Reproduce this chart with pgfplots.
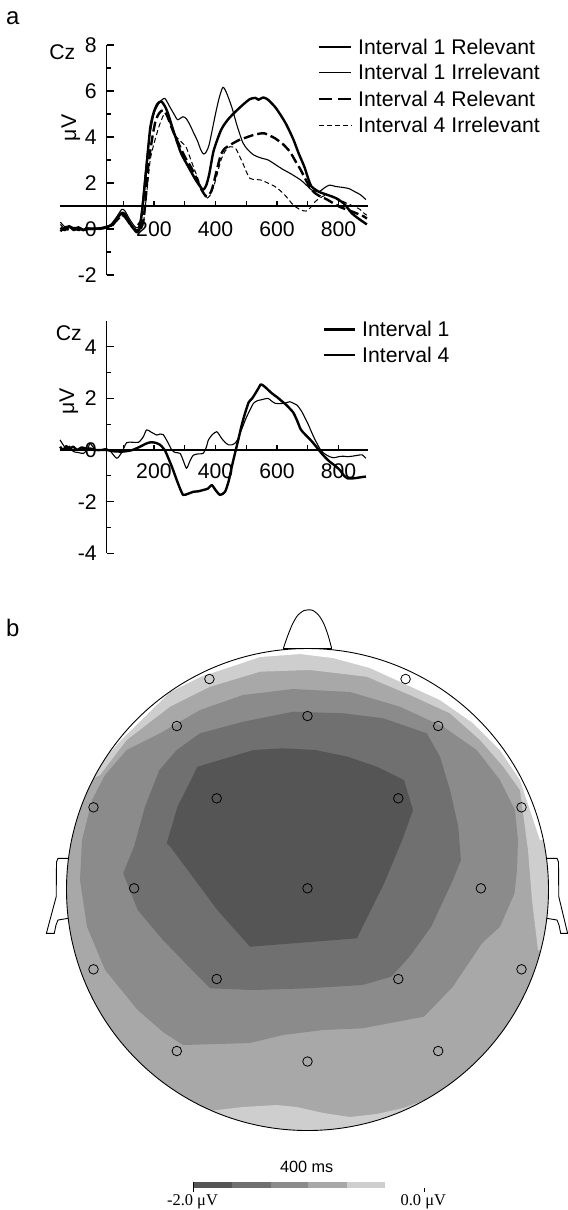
\documentclass[border=0pt]{standalone}
\usepackage{fontspec}
\setmainfont{Liberation Sans}
\newfontfamily\seriffont{Liberation Serif}
\usepackage{pgfplots}
\pgfplotsset{compat=1.18}
\definecolor{lvA}{HTML}{555555}
\definecolor{lvB}{HTML}{707070}
\definecolor{lvC}{HTML}{8B8B8B}
\definecolor{lvD}{HTML}{A8A8A8}
\definecolor{lvE}{HTML}{CECECE}
\pgfplotsset{
  erp/.style={hide axis, clip=false, x=0.3077bp, xmin=-150, xmax=950, anchor=south west},
  pix/.style={hide axis, clip=false, x=1bp, y=1bp, y dir=reverse, xmin=0, xmax=568, ymin=0, ymax=1210, anchor=north west, at={(0,0)}},
}
\tikzset{
  thickS/.style={black, line width=2.4bp, line join=round},
  thinS/.style={black, line width=1.1bp, line join=round},
  thickD/.style={black, line width=2.4bp, line join=round, dash pattern=on 10bp off 4bp},
  thinD/.style={black, line width=1.0bp, line join=round, dash pattern=on 5bp off 3bp},
  axl/.style={black, line width=1.2bp},
}
\begin{document}
\begin{tikzpicture}[font=\fontsize{21.3}{25}\selectfont]
\useasboundingbox (0,0) rectangle (568bp,-1210bp);

% ---------------- top ERP ----------------
\begin{axis}[erp, y=23bp, ymin=-3, ymax=9, at={(46.245bp,-298bp)}]
\pgfplotsinvokeforeach{-2,0,2,4,6,8}{
  \draw[axl] (axis cs:47.1,#1) -- (axis cs:69.9,#1);
  \node[anchor=east, inner sep=0pt] at (axis cs:14.6,#1) {#1};
}
\pgfplotsinvokeforeach{-1,1,3,5,7}{
  \draw[axl] (axis cs:47.1,#1) -- (axis cs:60.1,#1);
}
\draw[axl] (axis cs:47.1,-2) -- (axis cs:47.1,8);
\draw[axl] (axis cs:-106,1) -- (axis cs:896,1);
\pgfplotsinvokeforeach{100,200,300,400,500,600,700,800}{
  \draw[axl] (axis cs:#1,1) -- (axis cs:#1,1.22);
}
\pgfplotsinvokeforeach{200,400,600,800}{
  \node[inner sep=0pt] at (axis cs:#1,0) {#1};
}
% Interval 4 Irrelevant
\addplot[thinD, smooth, tension=0.4] coordinates {
(-104,0.2)(-90,0)(-75,0.1)(-60,-0.05)(-45,0.05)(-30,-0.05)(-15,0.05)(0,0)(20,0.02)(40,0.05)(60,0.1)(80,0.35)(95,0.55)(105,0.5)(120,0.2)(135,0.05)(150,-0.05)(165,0.2)(176,1.5)(188,3.0)(200,3.7)(218,4.52)(235,5.03)(248,4.75)(265,4.16)(280,3.9)(294,3.72)(305,3.55)(324,2.86)(340,2.3)(353,1.84)(363,1.5)(371,1.33)(382,1.45)(394,1.84)(406,2.4)(418,3.0)(432,3.4)(447,3.58)(465,3.51)(477,3.2)(489,2.86)(500,2.5)(512,2.2)(530,2.15)(547,2.13)(570,2.0)(594,1.84)(612,1.65)(630,1.41)(653,1.04)(677,0.83)(695,0.78)(710,0.95)(724,1.19)(740,1.35)(759,1.48)(783,1.42)(806,1.26)(830,1.1)(853,0.97)(870,0.85)(883,0.68)(892,0.6)
};
% Interval 4 Relevant
\addplot[thickD, smooth, tension=0.4] coordinates {
(-104,-0.1)(-90,0.05)(-75,-0.05)(-60,0.05)(-45,-0.05)(-30,0.05)(-15,0)(0,0)(20,0)(40,0.05)(60,0.1)(80,0.4)(95,0.6)(105,0.55)(120,0.25)(135,0)(150,-0.1)(165,0.3)(175,1.6)(182,2.8)(195,4.0)(206,4.74)(218,5.05)(230,5.17)(242,4.95)(265,4.16)(300,3.15)(320,2.7)(335,2.3)(355,1.7)(371,1.41)(385,1.6)(394,1.99)(405,2.6)(418,3.25)(430,3.5)(441,3.6)(460,3.75)(477,3.87)(500,3.98)(524,4.09)(545,4.15)(559,4.16)(575,4.07)(594,3.94)(620,3.68)(642,3.36)(660,2.95)(677,2.57)(695,2.1)(706,1.84)(720,1.6)(736,1.45)(760,1.3)(783,1.12)(806,0.95)(830,0.83)(855,0.7)(883,0.54)(892,0.45)
};
% Interval 1 Irrelevant
\addplot[thinS, smooth, tension=0.4] coordinates {
(-104,0.3)(-90,0.1)(-75,0.15)(-60,0.05)(-45,0.1)(-30,0)(-15,0.05)(0,0.05)(20,0.05)(40,0.1)(60,0.2)(80,0.55)(95,0.85)(105,0.8)(120,0.45)(135,0.15)(148,0.05)(158,0.6)(170,2.2)(182,3.7)(200,5.0)(218,5.5)(235,5.68)(250,5.35)(265,5.0)(277,4.75)(294,4.88)(305,4.8)(318,4.5)(330,4.15)(341,3.85)(352,3.45)(361,3.26)(370,3.35)(380,3.7)(400,5.0)(412,5.7)(424,6.16)(435,5.95)(453,5.3)(470,4.5)(489,3.75)(505,3.45)(524,3.22)(545,3.1)(571,3.0)(595,2.8)(618,2.6)(645,2.4)(677,2.13)(700,1.85)(712,1.7)(736,1.62)(755,1.8)(771,1.91)(790,1.85)(818,1.8)(835,1.75)(853,1.62)(870,1.5)(889,1.28)
};
% Interval 1 Relevant
\addplot[thickS, smooth, tension=0.4] coordinates {
(-104,0.05)(-90,-0.05)(-75,0.1)(-60,-0.05)(-45,0.05)(-30,-0.05)(-15,0)(0,0)(20,0.02)(40,0.05)(60,0.15)(80,0.45)(95,0.7)(105,0.65)(120,0.3)(135,0)(145,-0.15)(155,0.1)(165,1.2)(175,2.6)(188,4.4)(200,5.1)(212,5.45)(224,5.55)(235,5.35)(245,5.05)(265,4.2)(288,3.3)(312,2.7)(335,2.15)(350,1.85)(360,1.7)(370,1.9)(380,2.4)(394,3.4)(418,4.3)(440,4.75)(465,5.1)(489,5.4)(512,5.65)(530,5.7)(540,5.62)(555,5.72)(571,5.62)(594,5.3)(612,4.95)(630,4.55)(653,3.9)(670,3.3)(689,2.7)(700,2.25)(712,1.85)(736,1.62)(760,1.5)(790,1.35)(818,1.1)(842,0.7)(865,0.45)(892,0.2)
};
\end{axis}

% ---------------- bottom ERP ----------------
\begin{axis}[erp, y=25.8bp, ymin=-5, ymax=6, at={(46.245bp,-579bp)}]
\pgfplotsinvokeforeach{-4,-2,0,2,4}{
  \draw[axl] (axis cs:47.1,#1) -- (axis cs:69.9,#1);
  \node[anchor=east, inner sep=0pt] at (axis cs:14.6,#1) {#1};
}
\pgfplotsinvokeforeach{-3,-1,1,3}{
  \draw[axl] (axis cs:47.1,#1) -- (axis cs:60.1,#1);
}
\draw[axl] (axis cs:47.1,-4) -- (axis cs:47.1,5);
\draw[axl] (axis cs:-106,0) -- (axis cs:896,0);
\pgfplotsinvokeforeach{100,200,300,400,500,600,700,800}{
  \draw[axl] (axis cs:#1,0) -- (axis cs:#1,0.2);
}
\pgfplotsinvokeforeach{200,400,600,800}{
  \node[inner sep=0pt] at (axis cs:#1,-0.81) {#1};
}
% Interval 4
\addplot[thinS, smooth, tension=0.4] coordinates {
(-105,0.39)(-95,0.2)(-85,0.05)(-75,0.15)(-62,-0.06)(-45,-0.1)(-29,-0.13)(-15,0.05)(-8,0.26)(0,0.15)(10,0)(25,0)(40,0.05)(55,0)(79,-0.32)(95,-0.1)(111,0.28)(130,0.3)(150,0.3)(165,0.5)(176,0.78)(190,0.7)(209,0.58)(220,0.62)(230,0.6)(245,0.3)(258,0)(270,-0.1)(285,-0.13)(295,-0.4)(306,-0.71)(318,-0.4)(328,-0.2)(345,-0.15)(360,-0.13)(370,0.1)(377,0.39)(390,0.6)(404,0.71)(412,0.6)(420,0.45)(431,0.3)(442,0.2)(453,0.2)(463,0.26)(472,0.4)(480,0.65)(490,0.95)(500,1.25)(512,1.55)(523,1.8)(534,1.9)(550,1.95)(571,2.0)(582,1.9)(594,1.81)(610,1.8)(626,1.82)(642,1.87)(655,1.8)(665,1.74)(680,1.5)(700,1.03)(712,0.7)(724,0.39)(742,0)(755,-0.15)(771,-0.26)(785,-0.3)(800,-0.26)(815,-0.24)(830,-0.26)(850,-0.23)(865,-0.2)(877,-0.19)(889,-0.32)
};
% Interval 1
\addplot[thickS, smooth, tension=0.4] coordinates {
(-105,0.13)(-95,0)(-85,0.15)(-75,0.05)(-62,0.13)(-50,0)(-35,0.1)(-20,0.05)(-8,0.06)(10,0)(30,0)(46,0)(70,-0.05)(100,-0.06)(130,0)(155,0.13)(175,0.25)(190,0.3)(205,0.28)(220,0.2)(235,0)(247,-0.32)(260,-0.7)(274,-1.16)(285,-1.5)(295,-1.74)(310,-1.7)(328,-1.62)(345,-1.6)(360,-1.55)(375,-1.5)(388,-1.36)(400,-1.55)(415,-1.74)(431,-1.62)(443,-1.2)(453,-0.65)(464,-0.1)(474,0.39)(485,0.95)(496,1.42)(508,1.85)(518,1.98)(530,2.2)(540,2.4)(547,2.54)(555,2.5)(565,2.4)(583,2.2)(600,2.05)(615,1.9)(630,1.75)(642,1.6)(653,1.45)(665,1.15)(677,0.8)(690,0.62)(700,0.5)(712,0.35)(724,0.18)(736,0)(750,-0.2)(771,-0.45)(790,-0.62)(806,-0.8)(818,-1.0)(830,-1.1)(845,-1.1)(860,-1.08)(875,-1.05)(889,-1.03)
};
\end{axis}

% ---------------- head map (pixel frame) ----------------
\begin{axis}[pix]
\addplot[fill=lvD, draw=none] coordinates {(50,640)(565,640)(565,1140)(50,1140)} -- cycle;
\addplot[fill=lvE, draw=none] coordinates {(50,800)(100,775)(126.7,740)(170,706.7)(210,686.7)(260,671.7)(310,670)(366.7,676.7)(410,695)(450,713.3)(480,740)(503.3,766.7)(520,790)(528,850)(532,900)(538,950)(565,960)(565,640)(50,640)} -- cycle;
\addplot[fill=white, draw=none] coordinates {(50,775)(90,775)(120,741)(170,692)(200,677)(260,657)(300,654)(333,658)(370,668)(400,681.7)(440,700)(473,723)(500,750)(520,780)(530,810)(540,840)(565,840)(565,640)(50,640)} -- cycle;
\addplot[fill=lvC, draw=none] coordinates {(126.7,750)(160,733.3)(200,710)(243,695)(293,689)(350,692)(400,706.7)(443.3,726.7)(476.7,750)(500,780)(515,810)(518,840)(517,870)(514.5,893.3)(500,926.7)(481.9,943.3)(452.9,986.7)(423.9,1016.7)(362.3,1028.3)(323,1030)(283,1035)(250,1043)(183,1045)(163,1032)(137.7,1010)(105.1,970)(87,926.7)(80,880)(82,840)(92,800)(105,775)} -- cycle;
\addplot[fill=lvB, draw=none] coordinates {(176.7,750)(200,733.3)(243.3,721.7)(293.3,711.7)(343.3,713.3)(383.3,718.3)(426.7,733.3)(440,756.7)(450,790)(458.3,826.7)(460.9,860)(452.9,880)(431.2,926.7)(409.4,956.7)(391.3,976.7)(362.3,985)(308,988.3)(253.6,990)(210.1,988.3)(192,970)(163,940)(137.7,910)(123.2,873.3)(134,846.7)(145,806.7)(159.4,770)} -- cycle;
\addplot[fill=lvA, draw=none] coordinates {(188.4,785)(197.5,766.7)(253.6,750)(282.6,748.3)(315.2,750)(347.8,756.7)(376.8,766.7)(404,780)(413,810)(402.2,840)(384.1,883.3)(356.9,938.3)(250,946.7)(217.4,910)(170.3,846.7)(166.7,843.3)(177.5,806.7)} -- cycle;
\addplot[fill=lvE, draw=none] coordinates {(190,1140)(200,1112)(243,1107)(276.7,1105)(296.7,1107)(323.3,1113)(350,1117)(376.7,1114)(403.3,1108)(425,1100)(445,1140)} -- cycle;
% mask outside the head
\fill[white, even odd rule] (axis cs:40,600) rectangle (axis cs:568,1145) (axis cs:307.5,889.5) circle[radius=241bp];
% outline
\draw[black, line width=0.9bp] (axis cs:307.5,889.5) circle[radius=241bp];
\addplot[black, line width=0.9bp, smooth, tension=0.5] coordinates {(283.3,648.5)(288,635)(293,623)(298,615)(304,610.5)(308.3,609.8)(313,610.5)(318.5,615)(323.5,623)(328,635)(331.7,648.5)};
\addplot[black, line width=0.9bp] coordinates {(283.3,648.5)(331.7,648.5)};
\addplot[black, line width=0.9bp] coordinates {(68.6,858.3)(58,858.3)(56.5,862)(56.2,896.7)(46.4,933.3)(54.3,933.3)(56,925)(58,920)(68.3,918.3)};
\addplot[black, line width=0.9bp] coordinates {(546.4,858.3)(557,858.3)(558.5,862)(558.8,896.7)(567.6,933.3)(560.7,933.3)(559,925)(557,920)(546.7,918.3)};
% electrodes
\addplot[only marks, mark=o, mark size=4.8pt, mark options={black, line width=0.8bp}] coordinates {
(209.4,679)(405.6,679)
(176.8,726)(307.5,716)(438.2,726)
(93.5,807.3)(216.7,798.3)(398.3,798.3)(521.5,807.3)
(134.1,888.3)(307.5,888.3)(480.9,888.3)
(93.5,969.3)(216.7,979)(398.3,979)(521.5,969.3)
(176.8,1051)(307.5,1061.5)(438.2,1051)};
% colour bar
\addplot[fill=lvA, draw=none] coordinates {(193.3,1181.7)(231.7,1181.7)(231.7,1188.3)(193.3,1188.3)} -- cycle;
\addplot[fill=lvB, draw=none] coordinates {(231.7,1181.7)(270.7,1181.7)(270.7,1188.3)(231.7,1188.3)} -- cycle;
\addplot[fill=lvC, draw=none] coordinates {(270.7,1181.7)(308.3,1181.7)(308.3,1188.3)(270.7,1188.3)} -- cycle;
\addplot[fill=lvD, draw=none] coordinates {(308.3,1181.7)(347.3,1181.7)(347.3,1188.3)(308.3,1188.3)} -- cycle;
\addplot[fill=lvE, draw=none] coordinates {(347.3,1181.7)(385,1181.7)(385,1188.3)(347.3,1188.3)} -- cycle;
\draw[black, line width=0.8bp] (axis cs:193.3,1181.7) -- (axis cs:193.3,1192);
\draw[black, line width=0.8bp] (axis cs:424,1188.3) -- (axis cs:424,1192);
\end{axis}

% ---------------- texts ----------------
\node[font=\fontsize{24}{28}\selectfont] at (12.7bp,-18.3bp) {a};
\node[font=\fontsize{24}{28}\selectfont] at (12.7bp,-628.3bp) {b};
\node at (62.3bp,-51.7bp) {Cz};
\node at (68.8bp,-333.3bp) {Cz};
\node[rotate=90] at (70.8bp,-128bp) {μV};
\node[rotate=90] at (68.8bp,-401.7bp) {μV};

% top legend
\draw[thickS] (318.8bp,-46.7bp) -- (351.4bp,-46.7bp);
\draw[thinS] (318.8bp,-72.3bp) -- (351.4bp,-72.3bp);
\draw[thickD, dash pattern=on 13bp off 6bp] (318.8bp,-99bp) -- (351.4bp,-99bp);
\draw[thinD] (318.8bp,-125bp) -- (351.4bp,-125bp);
\node[anchor=west, inner sep=0pt] at (358bp,-46.7bp) {Interval 1 Relevant};
\node[anchor=west, inner sep=0pt] at (358bp,-72.3bp) {Interval 1 Irrelevant};
\node[anchor=west, inner sep=0pt] at (358bp,-99bp) {Interval 4 Relevant};
\node[anchor=west, inner sep=0pt] at (358bp,-125bp) {Interval 4 Irrelevant};

% bottom legend
\draw[thickS] (324bp,-329.3bp) -- (355bp,-329.3bp);
\draw[thinS] (324bp,-355bp) -- (355bp,-355bp);
\node[anchor=west, inner sep=0pt] at (362bp,-329.3bp) {Interval 1};
\node[anchor=west, inner sep=0pt] at (362bp,-355bp) {Interval 4};

% colour bar labels
\node[font=\fontsize{16.3}{19}\selectfont] at (306.7bp,-1166.7bp) {400 ms};
\node[font=\seriffont\fontsize{16.5}{19}\selectfont] at (192.5bp,-1201.7bp) {-2.0 μV};
\node[font=\seriffont\fontsize{16.5}{19}\selectfont] at (423.3bp,-1201.7bp) {0.0 μV};
\end{tikzpicture}
\end{document}
